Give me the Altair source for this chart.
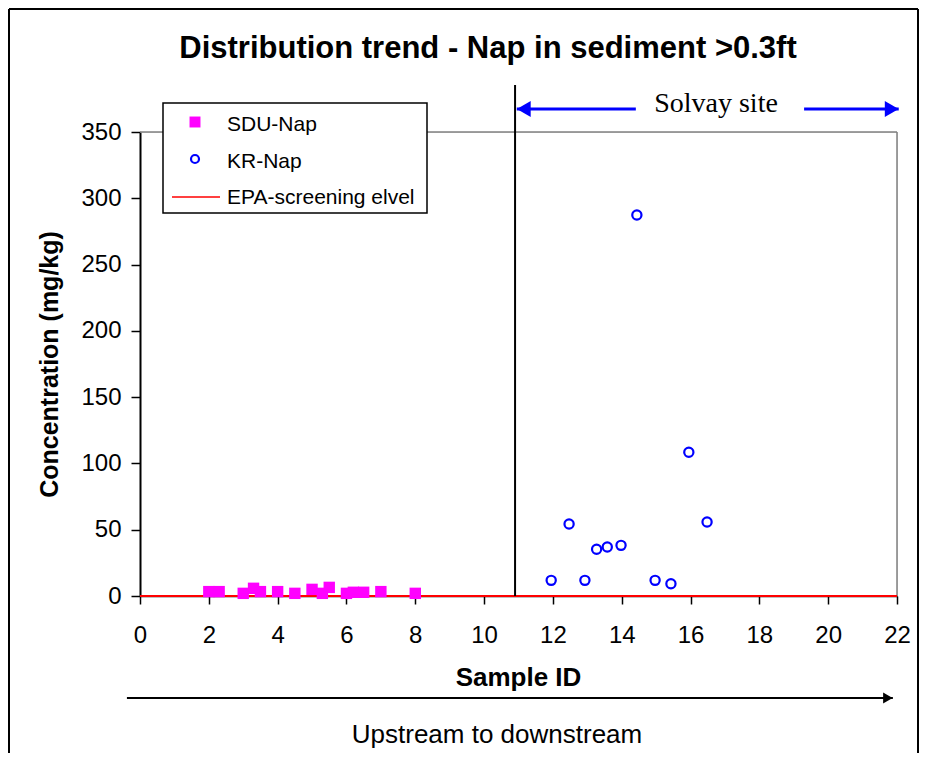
import altair as alt
import pandas as pd

# ---------------- data ----------------
sdu_id = [2.0, 2.3, 3.0, 3.3, 3.5, 4.0, 4.5, 5.0, 5.3, 5.5, 6.0, 6.2, 6.5, 7.0, 8.0]
sdu_val = [3.3, 3.3, 2.0, 5.8, 3.3, 3.3, 2.0, 5.0, 2.0, 6.5, 2.0, 2.8, 2.8, 3.3, 2.0]
kr_id = [11.95, 12.47, 12.93, 13.27, 13.58, 13.98, 14.44, 14.97, 15.43, 15.95, 16.48]
kr_val = [11.8, 54.3, 11.8, 35.2, 37.0, 38.2, 287.4, 11.8, 9.3, 108.4, 55.8]
epa_level = 0.0
series_names = ["SDU-Nap", "KR-Nap", "EPA-screening elvel"]
x_ticks = list(range(0, 23, 2))
y_ticks = list(range(0, 351, 50))
x_range = [0, 22]
y_range = [0, 350]
solvay_boundary = 10.9
title_text = "Distribution trend - Nap in sediment >0.3ft"
site_text = "Solvay site"
flow_text = "Upstream to downstream"

W, H = 757, 464
PAD = {"left": 132, "top": 124, "right": 22, "bottom": 157}
FONT = "Liberation Sans"

sdu = pd.DataFrame({"id": sdu_id, "val": sdu_val})
kr = pd.DataFrame({"id": kr_id, "val": kr_val})
epa = pd.DataFrame({"id": [x_range[0]], "id2": [x_range[1]], "val": [epa_level]})
sep = pd.DataFrame({"id": [solvay_boundary], "val": [0]})
one = pd.DataFrame({"a": [0]})


def xs():
    return alt.Scale(domain=x_range, nice=False, zero=False)


def ys():
    return alt.Scale(domain=y_range, nice=False, zero=False)


x_axis = alt.Axis(
    values=x_ticks, format="d", title="Sample ID", grid=False,
    labelFont=FONT, labelFontSize=24, labelColor="black", labelPadding=19,
    labelFlush=False, labelOverlap=False,
    tickSize=8, tickColor="black", tickWidth=1.5,
    domainColor="black", domainWidth=1.5,
    titleFont=FONT, titleFontSize=26, titleFontWeight="bold", titleColor="black",
    titleX=378, titleY=89, titleBaseline="alphabetic", titleAlign="center",
)
y_axis = alt.Axis(
    values=y_ticks, format="d", title="Concentration (mg/kg)", grid=False,
    labelFont=FONT, labelFontSize=24, labelColor="black", labelPadding=10,
    labelFlush=False, labelOverlap=False,
    tickSize=9, tickColor="black", tickWidth=1.5,
    domainColor="black", domainWidth=2,
    titleFont=FONT, titleFontSize=25, titleFontWeight="bold", titleColor="black",
    titleX=-83, titleY=232, titleAngle=270, titleBaseline="alphabetic", titleAlign="center",
)

# plot-area frame (grey top and right edges)
frame_plot_top = alt.Chart(one).mark_rule(color="#808080", strokeWidth=1.5).encode(
    x=alt.value(0), x2=alt.value(W), y=alt.value(0))
frame_plot_right = alt.Chart(one).mark_rule(color="#808080", strokeWidth=1.5).encode(
    x=alt.value(W), y=alt.value(0), y2=alt.value(H))

# EPA screening level (carries the axes)
epa_rule = alt.Chart(epa).mark_rule(color="#FF0000", strokeWidth=2).encode(
    x=alt.X("id:Q", scale=xs(), axis=x_axis),
    x2="id2:Q",
    y=alt.Y("val:Q", scale=ys(), axis=y_axis),
)

# Solvay boundary line
sep_rule = alt.Chart(sep).mark_rule(color="black", strokeWidth=2).encode(
    x=alt.X("id:Q", scale=xs(), axis=None),
    y=alt.Y("val:Q", scale=ys(), axis=None),
    y2=alt.value(-47),
)

sdu_pts = alt.Chart(sdu).mark_point(shape="square", filled=True, color="#FF00FF",
                                    size=130, opacity=1).encode(
    x=alt.X("id:Q", scale=xs(), axis=None),
    y=alt.Y("val:Q", scale=ys(), axis=None),
)
kr_pts = alt.Chart(kr).mark_point(shape="circle", filled=False, color="#0000FF",
                                  size=85, strokeWidth=2.2, opacity=1).encode(
    x=alt.X("id:Q", scale=xs(), axis=None),
    y=alt.Y("val:Q", scale=ys(), axis=None),
)

# ---------------- annotations ----------------
BLUE = "#0000FF"
arrow_y = -23
left_arrow = pd.DataFrame({"id": [solvay_boundary + 0.05], "id2": [14.41]})
right_arrow = pd.DataFrame({"id": [19.3], "id2": [22.05]})

la_line = alt.Chart(left_arrow).mark_rule(color=BLUE, strokeWidth=3).encode(
    x=alt.X("id:Q", scale=xs(), axis=None), x2="id2:Q", y=alt.value(arrow_y))
la_head = alt.Chart(left_arrow).mark_point(shape="triangle-left", filled=True, color=BLUE,
                                           size=256, opacity=1, xOffset=7).encode(
    x=alt.X("id:Q", scale=xs(), axis=None), y=alt.value(arrow_y))
ra_line = alt.Chart(right_arrow).mark_rule(color=BLUE, strokeWidth=3).encode(
    x=alt.X("id:Q", scale=xs(), axis=None), x2="id2:Q", y=alt.value(arrow_y))
ra_head = alt.Chart(right_arrow).mark_point(shape="triangle-right", filled=True, color=BLUE,
                                            size=256, opacity=1, xOffset=-7).encode(
    x=alt.X("id2:Q", scale=xs(), axis=None), y=alt.value(arrow_y))
site_label = alt.Chart(one).mark_text(font="Liberation Serif", fontSize=28, color="black",
                                      align="center", baseline="alphabetic").encode(
    x=alt.value(576), y=alt.value(-20), text=alt.value(site_text))

flow = pd.DataFrame({"id": [-0.38], "id2": [21.88]})
flow_line = alt.Chart(flow).mark_rule(color="black", strokeWidth=2).encode(
    x=alt.X("id:Q", scale=xs(), axis=None), x2="id2:Q", y=alt.value(566))
flow_head = alt.Chart(flow).mark_point(shape="triangle-right", filled=True, color="black",
                                       size=121, opacity=1, xOffset=-5).encode(
    x=alt.X("id2:Q", scale=xs(), axis=None), y=alt.value(566))
flow_label = alt.Chart(one).mark_text(font=FONT, fontSize=26, color="black",
                                      align="center", baseline="alphabetic").encode(
    x=alt.value(357), y=alt.value(611), text=alt.value(flow_text))

title = alt.Chart(one).mark_text(font=FONT, fontSize=31, fontWeight="bold", color="black",
                                 align="center", baseline="alphabetic").encode(
    x=alt.value(348), y=alt.value(-74), text=alt.value(title_text))

# ---------------- legend ----------------
leg_box = alt.Chart(one).mark_rect(fill="white", stroke="black", strokeWidth=1.5).encode(
    x=alt.value(23), x2=alt.value(287), y=alt.value(-29), y2=alt.value(81))
leg_sq = alt.Chart(one).mark_point(shape="square", filled=True, color="#FF00FF",
                                   size=120, opacity=1).encode(x=alt.value(55), y=alt.value(-10))
leg_ci = alt.Chart(one).mark_point(shape="circle", filled=False, color=BLUE,
                                   size=64, strokeWidth=2.2, opacity=1).encode(x=alt.value(55), y=alt.value(27))
leg_ln = alt.Chart(one).mark_rule(color="#FF0000", strokeWidth=1.5).encode(
    x=alt.value(32), x2=alt.value(80), y=alt.value(65))
leg_txt = alt.Chart(pd.DataFrame({"label": series_names, "yy": [-1.3, 36.3, 72]})).mark_text(
    font=FONT, fontSize=21, color="black", align="left", baseline="alphabetic").encode(
    x=alt.value(87), y=alt.Y("yy:Q", scale=alt.Scale(domain=[0, H], range=[0, H]), axis=None),
    text="label:N")

# ---------------- outer frame ----------------
tot_w = PAD["left"] + W + PAD["right"]
tot_h = PAD["top"] + H + PAD["bottom"]
fl = -PAD["left"] + 1
ft = -PAD["top"] + 1
fr = tot_w - PAD["left"] - 1
fb = tot_h - PAD["top"]
frame_top = alt.Chart(one).mark_rule(color="black", strokeWidth=2).encode(
    x=alt.value(fl), x2=alt.value(fr), y=alt.value(ft))
frame_left = alt.Chart(one).mark_rule(color="black", strokeWidth=2).encode(
    x=alt.value(fl), y=alt.value(ft), y2=alt.value(fb))
frame_right = alt.Chart(one).mark_rule(color="black", strokeWidth=2).encode(
    x=alt.value(fr), y=alt.value(ft), y2=alt.value(fb))

chart = alt.layer(
    frame_plot_top, frame_plot_right,
    epa_rule, sep_rule, sdu_pts, kr_pts,
    la_line, la_head, ra_line, ra_head, site_label,
    flow_line, flow_head, flow_label, title,
    leg_box, leg_sq, leg_ci, leg_ln, leg_txt,
    frame_top, frame_left, frame_right,
).resolve_scale(x="independent", y="independent").properties(
    width=W, height=H, padding=PAD,
    autosize=alt.AutoSizeParams(type="none"),
).configure_view(strokeWidth=0).configure(background="white")

chart.save("out.html", embed_options={"renderer": "svg", "actions": False})
